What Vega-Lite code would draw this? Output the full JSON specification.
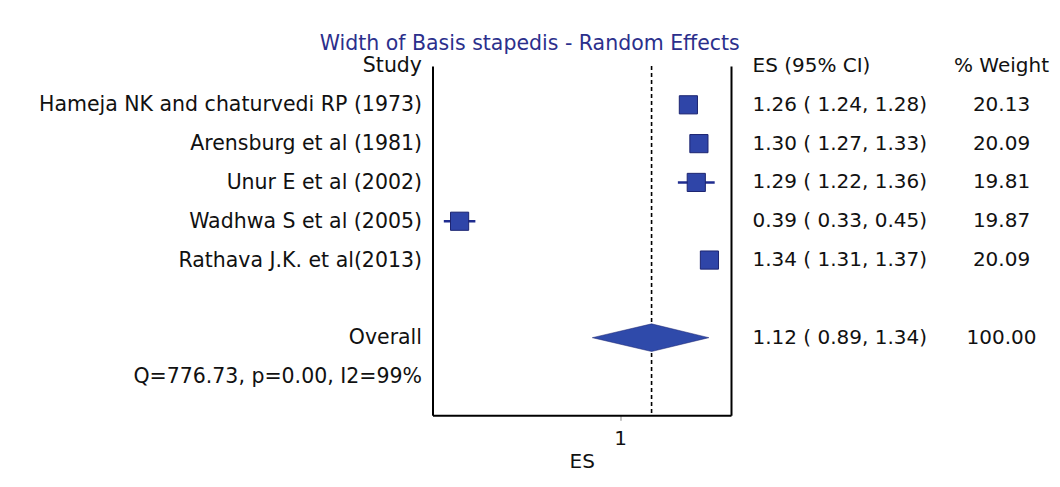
{
  "$schema": "https://vega.github.io/schema/vega-lite/v6.json",
  "background": "white",
  "padding": {"left": 37.5, "top": 34, "right": 0, "bottom": 12},
  "bounds": "flush",
  "spacing": 21,
  "config": {
    "view": {"stroke": null},
    "font": "DejaVu Sans",
    "axis": {"labelFont": "DejaVu Sans", "titleFont": "DejaVu Sans", "grid": false}
  },
  "datasets": {
    "studies": [
      {"study": "Hameja NK and chaturvedi RP (1973)", "es": 1.26, "lo": 1.24, "hi": 1.28, "weight": 20.13, "type": "study"},
      {"study": "Arensburg et al (1981)", "es": 1.30, "lo": 1.27, "hi": 1.33, "weight": 20.09, "type": "study"},
      {"study": "Unur E et al (2002)", "es": 1.29, "lo": 1.22, "hi": 1.36, "weight": 19.81, "type": "study"},
      {"study": "Wadhwa S et al (2005)", "es": 0.39, "lo": 0.33, "hi": 0.45, "weight": 19.87, "type": "study"},
      {"study": "Rathava J.K. et al(2013)", "es": 1.34, "lo": 1.31, "hi": 1.37, "weight": 20.09, "type": "study"},
      {"study": "Overall", "es": 1.12, "lo": 0.89, "hi": 1.34, "weight": 100.00, "type": "overall"}
    ],
    "table": [
      {"row": "Study", "col": "es", "text": "ES (95% CI)"},
      {"row": "Study", "col": "w", "text": "% Weight"},
      {"row": "Hameja NK and chaturvedi RP (1973)", "col": "es", "text": "1.26 ( 1.24, 1.28)"},
      {"row": "Hameja NK and chaturvedi RP (1973)", "col": "w", "text": "20.13"},
      {"row": "Arensburg et al (1981)", "col": "es", "text": "1.30 ( 1.27, 1.33)"},
      {"row": "Arensburg et al (1981)", "col": "w", "text": "20.09"},
      {"row": "Unur E et al (2002)", "col": "es", "text": "1.29 ( 1.22, 1.36)"},
      {"row": "Unur E et al (2002)", "col": "w", "text": "19.81"},
      {"row": "Wadhwa S et al (2005)", "col": "es", "text": "0.39 ( 0.33, 0.45)"},
      {"row": "Wadhwa S et al (2005)", "col": "w", "text": "19.87"},
      {"row": "Rathava J.K. et al(2013)", "col": "es", "text": "1.34 ( 1.31, 1.37)"},
      {"row": "Rathava J.K. et al(2013)", "col": "w", "text": "20.09"},
      {"row": "Overall", "col": "es", "text": "1.12 ( 0.89, 1.34)"},
      {"row": "Overall", "col": "w", "text": "100.00"}
    ]
  },
  "hconcat": [
    {
      "width": 298.5,
      "height": 349.3,
      "title": {
        "text": "Width of Basis stapedis - Random Effects",
        "color": "#2b2f8c",
        "fontSize": 20.5,
        "fontWeight": "normal",
        "font": "DejaVu Sans",
        "anchor": "middle",
        "dx": -52,
        "offset": 1
      },
      "data": {"name": "studies"},
      "layer": [
        {
          "transform": [{"filter": "datum.type === 'overall'"}],
          "mark": {"type": "rule", "color": "black", "strokeWidth": 1.6, "strokeDash": [4, 3]},
          "encoding": {
            "x": {"field": "es", "type": "quantitative", "scale": {"domain": [0.287, 1.422], "nice": false, "zero": false},
              "axis": {"values": [1], "title": "ES", "domainColor": "black", "domainWidth": 2, "tickColor": "#888888", "tickSize": 5, "tickWidth": 1, "labelFontSize": 20, "labelColor": "#111111", "labelPadding": 8, "titleFontSize": 20, "titleFontWeight": "normal", "titleColor": "#111111", "titlePadding": 3}}
          }
        },
        {
          "transform": [{"filter": "datum.type === 'study'"}],
          "mark": {"type": "rule", "color": "#1f2c8f", "strokeWidth": 2.5},
          "encoding": {
            "x": {"field": "lo", "type": "quantitative", "scale": {"domain": [0.287, 1.422], "nice": false, "zero": false},
              "axis": {"values": [1], "title": "ES", "domainColor": "black", "domainWidth": 2, "tickColor": "#888888", "tickSize": 5, "tickWidth": 1, "labelFontSize": 20, "labelColor": "#111111", "labelPadding": 8, "titleFontSize": 20, "titleFontWeight": "normal", "titleColor": "#111111", "titlePadding": 3}},
            "x2": {"field": "hi"},
            "y": {"field": "study", "type": "nominal", "scale": {"type": "point", "domain": ["Study", "Hameja NK and chaturvedi RP (1973)", "Arensburg et al (1981)", "Unur E et al (2002)", "Wadhwa S et al (2005)", "Rathava J.K. et al(2013)", " ", "Overall", "Q=776.73, p=0.00, I2=99%"], "padding": 0.5, "align": 0}, "axis": null}
          }
        },
        {
          "transform": [{"filter": "datum.type === 'study'"}],
          "mark": {"type": "point", "shape": "square", "filled": true, "fill": "#2f45a8", "stroke": "#1c2470", "strokeWidth": 1, "size": 330, "opacity": 1},
          "encoding": {
            "x": {"field": "es", "type": "quantitative", "scale": {"domain": [0.287, 1.422], "nice": false, "zero": false},
              "axis": {"values": [1], "title": "ES", "domainColor": "black", "domainWidth": 2, "tickColor": "#888888", "tickSize": 5, "tickWidth": 1, "labelFontSize": 20, "labelColor": "#111111", "labelPadding": 8, "titleFontSize": 20, "titleFontWeight": "normal", "titleColor": "#111111", "titlePadding": 3}},
            "y": {"field": "study", "type": "nominal", "scale": {"type": "point", "domain": ["Study", "Hameja NK and chaturvedi RP (1973)", "Arensburg et al (1981)", "Unur E et al (2002)", "Wadhwa S et al (2005)", "Rathava J.K. et al(2013)", " ", "Overall", "Q=776.73, p=0.00, I2=99%"], "padding": 0.5, "align": 0},
              "axis": {"orient": "left", "title": null, "domain": true, "domainColor": "black", "domainWidth": 2, "ticks": false, "labelPadding": 11, "labelFontSize": 20.5, "labelColor": "#111111", "labelLimit": 800}}
          }
        },
        {
          "transform": [{"filter": "datum.type === 'overall'"}],
          "mark": {"type": "point", "shape": "M-1.017,0L0,-0.2375L0.983,0L0,0.2375Z", "filled": true, "fill": "#2f4aaa", "stroke": "#1c2470", "strokeWidth": 0.5, "size": 13596, "opacity": 1},
          "encoding": {
            "x": {"field": "es", "type": "quantitative", "scale": {"domain": [0.287, 1.422], "nice": false, "zero": false},
              "axis": {"values": [1], "title": "ES", "domainColor": "black", "domainWidth": 2, "tickColor": "#888888", "tickSize": 5, "tickWidth": 1, "labelFontSize": 20, "labelColor": "#111111", "labelPadding": 8, "titleFontSize": 20, "titleFontWeight": "normal", "titleColor": "#111111", "titlePadding": 3}},
            "y": {"field": "study", "type": "nominal", "scale": {"type": "point", "domain": ["Study", "Hameja NK and chaturvedi RP (1973)", "Arensburg et al (1981)", "Unur E et al (2002)", "Wadhwa S et al (2005)", "Rathava J.K. et al(2013)", " ", "Overall", "Q=776.73, p=0.00, I2=99%"], "padding": 0.5, "align": 0},
              "axis": {"orient": "right", "title": null, "domain": true, "domainColor": "black", "domainWidth": 2, "ticks": false, "labels": false}}
          }
        }
      ],
      "resolve": {"axis": {"y": "independent"}}
    },
    {
      "width": 249,
      "height": 349.3,
      "data": {"name": "table"},
      "encoding": {
        "y": {"field": "row", "type": "nominal", "scale": {"type": "point", "domain": ["Study", "Hameja NK and chaturvedi RP (1973)", "Arensburg et al (1981)", "Unur E et al (2002)", "Wadhwa S et al (2005)", "Rathava J.K. et al(2013)", " ", "Overall", "Q=776.73, p=0.00, I2=99%"], "padding": 0.5, "align": 0}, "axis": null},
        "x": {"field": "col", "type": "nominal", "scale": {"type": "point", "domain": ["es", "w"], "padding": 0}, "axis": null},
        "text": {"field": "text"}
      },
      "layer": [
        {
          "transform": [{"filter": "datum.col === 'es'"}],
          "mark": {"type": "text", "align": "left", "baseline": "middle", "fontSize": 20, "font": "DejaVu Sans", "color": "#111111"}
        },
        {
          "transform": [{"filter": "datum.col === 'w'"}],
          "mark": {"type": "text", "align": "center", "baseline": "middle", "fontSize": 20, "font": "DejaVu Sans", "color": "#111111"}
        }
      ]
    }
  ]
}
